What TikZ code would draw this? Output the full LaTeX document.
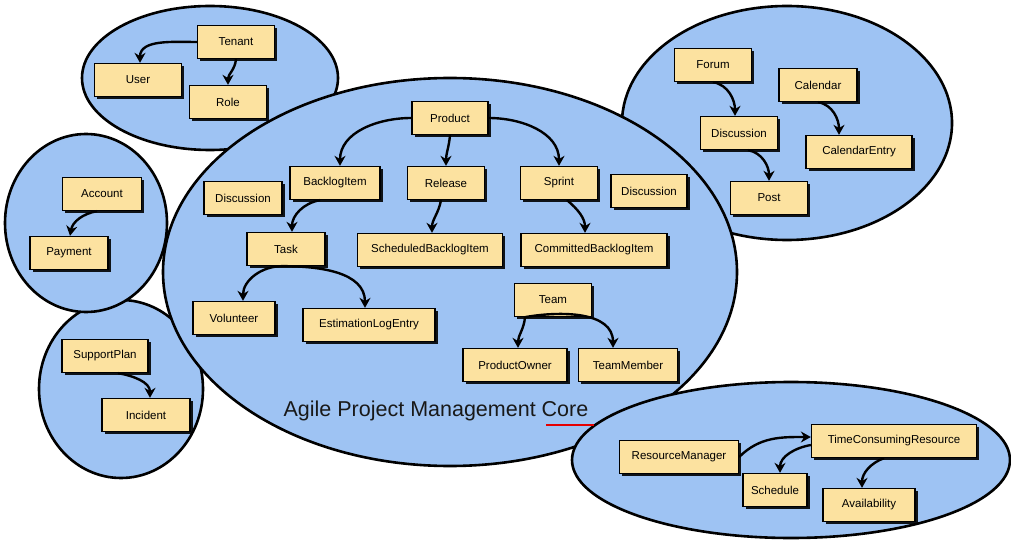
\documentclass[tikz,border=0pt]{standalone}
\usepackage{fontspec}
\setmainfont{Liberation Sans}
\usetikzlibrary{arrows.meta,shadows}
\definecolor{regionblue}{HTML}{9EC3F3}
\definecolor{boxyellow}{HTML}{FCE2A0}
\tikzset{
  region/.style={draw=black, line width=2.6pt, fill=regionblue},
  ent/.style={draw=black, line width=1.3pt, fill=boxyellow, minimum height=33pt,
    inner sep=2pt, font=\fontsize{11.5}{13}\selectfont,
    drop shadow={shadow xshift=2.6pt, shadow yshift=-2.6pt, fill=black, opacity=0.9}},
  rel/.style={-{Stealth[length=10pt,width=11pt]}, line width=2.4pt, black},
  title/.style={font=\fontsize{21.5}{25}\selectfont, text=black!90}
}
\begin{document}
\begin{tikzpicture}[x=1pt,y=1pt]
\useasboundingbox[fill=white] (0,0) rectangle (1011,-545);
% regions
\draw[region] (210,-78) ellipse [x radius=128pt, y radius=72pt];
\draw[region] (787,-123) ellipse [x radius=165pt, y radius=117pt];
\draw[region] (121,-389) ellipse [x radius=82pt, y radius=89pt];
\draw[region] (86,-223) ellipse [x radius=81pt, y radius=89pt];
\draw[region] (450,-272) ellipse [x radius=287pt, y radius=194pt];
\draw[region] (791,-460) ellipse [x radius=219pt, y radius=78pt];
% identity
\node[ent, minimum width=77pt] (tenant) at (236,-42) {Tenant};
\node[ent, minimum width=87pt] (user) at (138,-80) {User};
\node[ent, minimum width=77pt] (role) at (228,-102) {Role};
% core
\node[ent, minimum width=76pt] (product) at (450,-118) {Product};
\node[ent, minimum width=90pt] (backlog) at (335,-183) {BacklogItem};
\node[ent, minimum width=77pt] (release) at (446,-183) {Release};
\node[ent, minimum width=78pt] (discA) at (243,-198) {Discussion};
\node[ent, minimum width=78pt] (task) at (286,-249) {Task};
\node[ent, minimum width=145pt] (sched) at (430,-250) {ScheduledBacklogItem};
\node[ent, minimum width=77pt] (sprint) at (559,-183) {Sprint};
\node[ent, minimum width=76pt] (discB) at (649,-191) {Discussion};
\node[ent, minimum width=146pt] (committed) at (594,-250) {CommittedBacklogItem};
\node[ent, minimum width=82pt] (volunteer) at (234,-318) {Volunteer};
\node[ent, minimum width=132pt] (estim) at (369,-325) {EstimationLogEntry};
\node[ent, minimum width=77pt] (team) at (553,-300) {Team};
\node[ent, minimum width=104pt] (po) at (515,-365) {ProductOwner};
\node[ent, minimum width=99pt] (tm) at (628,-365) {TeamMember};
\node[title] (coretitle) at (436,-411) {Agile Project Management Core};
\draw[red!90!black, line width=2pt] (546,-425) -- (594,-425);
% billing
\node[ent, minimum width=79pt] (account) at (102,-194) {Account};
\node[ent, minimum width=78pt] (payment) at (69,-253) {Payment};
% support
\node[ent, minimum width=86pt] (support) at (105,-356) {SupportPlan};
\node[ent, minimum width=88pt] (incident) at (146,-415) {Incident};
% collaboration
\node[ent, minimum width=77pt] (forum) at (713,-65) {Forum};
\node[ent, minimum width=78pt] (calendar) at (818,-85) {Calendar};
\node[ent, minimum width=77pt] (discC) at (739,-133) {Discussion};
\node[ent, minimum width=106pt] (calentry) at (859,-152) {CalendarEntry};
\node[ent, minimum width=77pt] (post) at (769,-198) {Post};
% resources
\node[ent, minimum width=119pt] (rm) at (679,-457) {ResourceManager};
\node[ent, minimum width=165pt] (tcr) at (894,-441) {TimeConsumingResource};
\node[ent, minimum width=64pt] (schedule) at (775,-490) {Schedule};
\node[ent, minimum width=92pt] (avail) at (869,-505) {Availability};
% relations
\draw[rel] (tenant.west) to[out=180,in=90] ([xshift=2pt]user.north);
\draw[rel] (tenant.south) to[out=265,in=90] (role.north);
\draw[rel] (product.west) to[out=180,in=90] ([xshift=5pt]backlog.north);
\draw[rel] (product.south) to[out=265,in=90] (release.north);
\draw[rel] (product.east) to[out=0,in=90] (sprint.north);
\draw[rel] ([xshift=-15pt]backlog.south) to[out=190,in=90] ([xshift=6pt]task.north);
\draw[rel] ([xshift=-5pt]release.south) to[out=260,in=90] ([xshift=2pt]sched.north);
\draw[rel] ([xshift=8pt]sprint.south) to[out=-40,in=90] ([xshift=-9pt]committed.north);
\draw[rel] ([xshift=-4pt]task.south) to[out=180,in=90] ([xshift=9pt]volunteer.north);
\draw[rel] ([xshift=-4pt]task.south) to[out=0,in=90] ([xshift=-4pt]estim.north);
\draw[rel] ([xshift=-28pt]team.south) to[out=265,in=90] ([xshift=3pt]po.north);
\draw[rel] ([xshift=-28pt]team.south) to[out=10,in=90] ([xshift=-15pt]tm.north);
\draw[rel] ([xshift=-5pt]account.south) to[out=190,in=80] ([xshift=1pt]payment.north);
\draw[rel] ([xshift=13pt]support.south) to[out=-10,in=90] ([xshift=4pt]incident.north);
\draw[rel] (forum.south) to[out=-10,in=90] ([xshift=-4pt]discC.north);
\draw[rel] (calendar.south) to[out=-10,in=90] ([xshift=-20pt]calentry.north);
\draw[rel] ([xshift=9pt]discC.south) to[out=-10,in=90] (post.north);
\draw[rel] (rm.east) to[out=45,in=180] ([yshift=4pt]tcr.west);
\draw[rel] ([yshift=-4pt]tcr.west) to[out=190,in=90] ([xshift=5pt]schedule.north);
\draw[rel] ([xshift=-10pt]tcr.south) to[out=200,in=90] ([xshift=-7pt]avail.north);
\end{tikzpicture}
\end{document}
